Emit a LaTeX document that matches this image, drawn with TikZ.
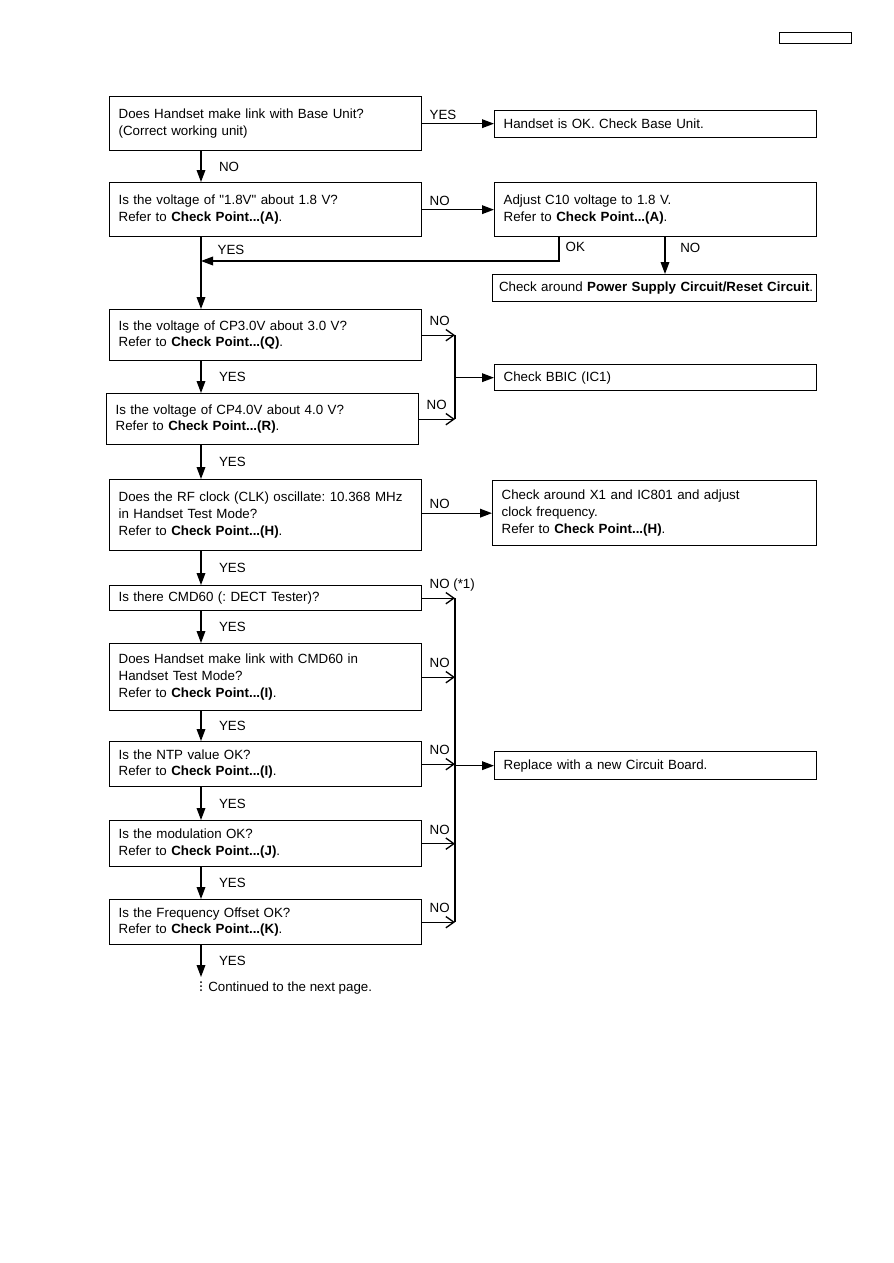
\documentclass[tikz,border=0pt]{standalone}
\usepackage{fontspec}
\setmainfont{Liberation Sans}[Ligatures=TeXOff]
\frenchspacing
\usetikzlibrary{arrows.meta}
\tikzset{
  fc box/.style={draw, line width=1pt, anchor=north west, align=left, inner xsep=6.75pt, inner ysep=0pt, font=\fontsize{10}{12.5}\selectfont},
  fc wide/.style={fc box, text width=220.5pt},
  fc side/.style={fc box, text width=228pt},
  fc label/.style={inner sep=0pt, font=\fontsize{10}{12}\selectfont},
  fc link/.style={draw, line width=1pt},
  fc arrow/.style={fc link, -{Triangle[length=9pt,width=6.5pt]}},
  fc merge/.style={fc link, -{Straight Barb[length=6pt,width=8.5pt,line width=1pt]}},
  fc yes/.style={fc label, midway, anchor=west, xshift=13pt},
  fc no/.style={fc label, pos=0, anchor=base west, xshift=5pt, yshift=3.5pt},
  fc no merge/.style={fc label, pos=0, anchor=base west, xshift=5pt, yshift=7pt},
}
\begin{document}
\begin{tikzpicture}[x=.75pt,y=-.75pt]
  \useasboundingbox[fill=white] (0,0) rectangle (893,1263);
  \node[draw, line width=.8pt, minimum width=54pt, minimum height=8.25pt, inner sep=0pt, anchor=north west] (pgtag) at (779,32) {};
  % questions
  \node[fc wide, minimum height=40.5pt] (link) at (109,96) {Does Handset make link with Base Unit?\\(Correct working unit)};
  \node[fc wide, minimum height=40.5pt] (v18) at (109,182) {Is the voltage of "1.8V" about 1.8 V?\\Refer to \textbf{Check Point...(A)}.};
  \node[fc wide, minimum height=38.25pt] (cp3) at (109,309) {Is the voltage of CP3.0V about 3.0 V?\\Refer to \textbf{Check Point...(Q)}.};
  \node[fc wide, minimum height=38.25pt] (cp4) at (106,393) {Is the voltage of CP4.0V about 4.0 V?\\Refer to \textbf{Check Point...(R)}.};
  \node[fc wide, minimum height=53.25pt] (rfclk) at (109,479) {Does the RF clock (CLK) oscillate: 10.368 MHz\\in Handset Test Mode?\\Refer to \textbf{Check Point...(H)}.};
  \node[fc wide, minimum height=18.75pt] (cmd) at (109,585) {Is there CMD60 (: DECT Tester)?};
  \node[fc wide, minimum height=50.25pt] (cmdlink) at (109,643) {Does Handset make link with CMD60 in\\Handset Test Mode?\\Refer to \textbf{Check Point...(I)}.};
  \node[fc wide, minimum height=33.75pt] (ntp) at (109,741) {Is the NTP value OK?\\Refer to \textbf{Check Point...(I)}.};
  \node[fc wide, minimum height=34.5pt] (mod) at (109,820) {Is the modulation OK?\\Refer to \textbf{Check Point...(J)}.};
  \node[fc wide, minimum height=33.75pt] (freq) at (109,899) {Is the Frequency Offset OK?\\Refer to \textbf{Check Point...(K)}.};
  % actions
  \node[fc side, minimum height=20.25pt] (hsok) at (494,110) {Handset is OK. Check Base Unit.};
  \node[fc side, minimum height=40.5pt] (adj) at (494,182) {Adjust C10 voltage to 1.8 V.\\Refer to \textbf{Check Point...(A)}.};
  \node[fc side, inner xsep=4.75pt, text width=233.5pt, minimum height=20.25pt] (psc) at (492,274) {\mbox{Check around \textbf{Power Supply Circuit/Reset Circuit}.}};
  \node[fc side, minimum height=19.5pt] (bbic) at (494,364) {Check BBIC (IC1)};
  \node[fc side, text width=229.5pt, minimum height=48.75pt] (xclk) at (492,480) {Check around X1 and IC801 and adjust\\clock frequency.\\Refer to \textbf{Check Point...(H)}.};
  \node[fc side, minimum height=21pt] (newpcb) at (494,751) {Replace with a new Circuit Board.};
  % turning points
  \coordinate (trunk) at (201,0);
  \coordinate (bus) at (455,0);
  \coordinate (okturn) at (559,261);
  \coordinate (psdrop) at (665,0);
  \coordinate (tail) at (201,977);
  % connectors
  \draw[fc arrow] (link.east) -- (link.east -| hsok.west) node[fc no] (yes0) {YES};
  \draw[fc arrow] (link.south -| trunk) -- (v18.north -| trunk) node[fc yes] (no0) {NO};
  \draw[fc arrow] (v18.east) -- (v18.east -| adj.west) node[fc no] (no1) {NO};
  \draw[fc arrow] (adj.south -| okturn) -- (okturn) node[fc label, pos=0, anchor=north west, xshift=4.5pt, yshift=-3pt] (ok1) {OK} -- (okturn -| trunk);
  \draw[fc arrow] (adj.south -| psdrop) -- (psc.north -| psdrop) node[fc label, pos=0, anchor=north west, xshift=11pt, yshift=-4pt] (no2) {NO};
  \draw[fc arrow] (v18.south -| trunk) -- (cp3.north -| trunk) node[fc yes, pos=.18, xshift=-1pt] (yes1) {YES};
  \draw[fc arrow] (cp3.south -| trunk) -- (cp4.north -| trunk) node[fc yes] (yes2) {YES};
  \draw[fc merge] (cp3.east) -- (cp3.east -| bus) node[fc no merge] (no3) {NO};
  \draw[fc merge] (cp4.east) -- (cp4.east -| bus) node[fc no merge] (no4) {NO};
  \draw[fc link] (cp3.east -| bus) -- (cp4.east -| bus);
  \draw[fc arrow] (bbic.west -| bus) -- (bbic.west);
  \draw[fc arrow] (cp4.south -| trunk) -- (rfclk.north -| trunk) node[fc yes] (yes3) {YES};
  \draw[fc arrow] (rfclk.east |- xclk.west) -- (xclk.west) node[fc no] (no5) {NO};
  \draw[fc arrow] (rfclk.south -| trunk) -- (cmd.north -| trunk) node[fc yes] (yes4) {YES};
  \draw[fc merge] (cmd.east) -- (cmd.east -| bus) node[fc no merge] (no6) {NO (*1)};
  \draw[fc arrow] (cmd.south -| trunk) -- (cmdlink.north -| trunk) node[fc yes] (yes5) {YES};
  \draw[fc merge] (cmdlink.east) -- (cmdlink.east -| bus) node[fc no merge] (no7) {NO};
  \draw[fc arrow] (cmdlink.south -| trunk) -- (ntp.north -| trunk) node[fc yes] (yes6) {YES};
  \draw[fc merge] (ntp.east) -- (ntp.east -| bus) node[fc no merge] (no8) {NO};
  \draw[fc arrow] (ntp.south -| trunk) -- (mod.north -| trunk) node[fc yes] (yes7) {YES};
  \draw[fc merge] (mod.east) -- (mod.east -| bus) node[fc no merge] (no9) {NO};
  \draw[fc arrow] (mod.south -| trunk) -- (freq.north -| trunk) node[fc yes] (yes8) {YES};
  \draw[fc merge] (freq.east) -- (freq.east -| bus) node[fc no merge] (no10) {NO};
  \draw[fc link] (cmd.east -| bus) -- (freq.east -| bus);
  \draw[fc arrow] (newpcb.west -| bus) -- (newpcb.west);
  \draw[fc arrow] (freq.south -| trunk) -- (tail) node[fc yes] (yes9) {YES};
  % continuation
  \node[fc label, anchor=west] (cont) at (208,988) {Continued to the next page.};
  \foreach \y in {982,986,990}{\fill (trunk |- 0,\y) circle (.75pt);}
\end{tikzpicture}
\end{document}
